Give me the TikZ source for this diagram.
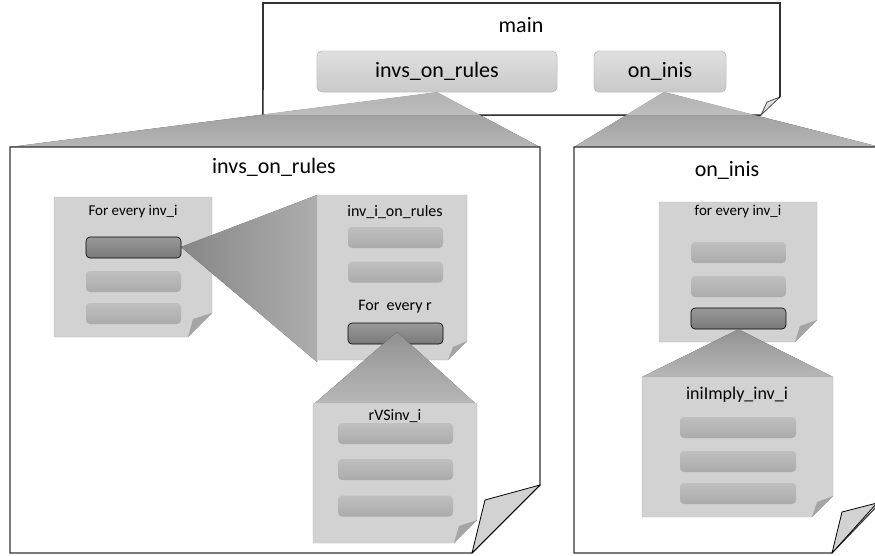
\documentclass[tikz,border=0pt]{standalone}
\usepackage{fontspec}
\setmainfont{Carlito}
\usetikzlibrary{positioning}
\definecolor{pageG}{RGB}{210,210,210}
\definecolor{pageE}{RGB}{180,180,180}
\definecolor{flapG}{RGB}{165,165,165}
\definecolor{edgeK}{RGB}{50,50,50}

% inner sheet: name, x1, y1, x2, y2, fold
\newcommand{\sheet}[6]{%
  \coordinate (#1-nw) at (#2,#3); \coordinate (#1-ne) at (#4,#3);
  \coordinate (#1-sw) at (#2,#5);
  \filldraw[fill=pageG,draw=pageE,thin] (#2,#3)--(#4,#3)--(#4,#5-#6)--(#4-#6,#5)--(#2,#5)--cycle;
  \fill[flapG] (#4,#5-#6)--(#4-#6+5,#5-#6+6)--(#4-#6,#5)--cycle;}

\begin{document}
\begin{tikzpicture}[x=1pt,y=-1pt,
  big/.style={draw=edgeK,line width=1.1pt,line join=miter},
  bigflap/.style={draw=black,fill=pageG,line width=0.8pt,line join=round},
  topbtn/.style={rounded corners=5pt,draw=pageE,top color=gray!25,bottom color=gray!42,
    font=\fontsize{22}{24}\selectfont,inner sep=0pt},
  btn/.style={rounded corners=4pt,top color=gray!50,bottom color=gray!66,
    minimum width=95pt,minimum height=21pt,inner sep=0pt},
  selbtn/.style={btn,draw=black,semithick,top color=gray!80,bottom color=gray!105},
  fanV/.style={top color=gray!72,bottom color=gray!40,opacity=0.88},
  fanH/.style={left color=gray!80,right color=gray!45,opacity=0.85},
  title/.style={font=\fontsize{22}{24}\selectfont,inner sep=0pt},
  small/.style={font=\fontsize{15}{17}\selectfont,inner sep=0pt},
  mid/.style={font=\fontsize{16}{18}\selectfont,inner sep=0pt}]
\useasboundingbox (0,0) rectangle (875,555);

% main sheet
\filldraw[big,fill=white] (761,115)--(263,115)--(263,3)--(780,3)--(780,97);
\draw[bigflap] (780,97)--(767,102)--(761,115)--cycle;
\node[title] (mainT) at (521,25) {main};
\node[topbtn,minimum width=240pt,minimum height=41pt] (invs) at (437,71.5) {invs\_on\_rules};
\node[topbtn,minimum width=132pt,minimum height=41pt] (inis) at (660,71.5) {on\_inis};
\coordinate (inisTip) at (664,92);

% panel corners
\coordinate (L-nw) at (10,147); \coordinate (L-ne) at (540,147);
\coordinate (R-nw) at (574,147); \coordinate (R-ne) at (880,147);
\fill[fanV] (invs.south) -- (L-ne) -- (L-nw) -- cycle;
\fill[fanV] (inisTip) -- (R-ne) -- (R-nw) -- cycle;
\fill[white,opacity=0.3] (263,90) rectangle (779,114.5);
\node[topbtn,minimum width=240pt,minimum height=41pt] at (invs) {invs\_on\_rules};
\node[topbtn,minimum width=132pt,minimum height=41pt] at (inis) {on\_inis};

% left panel
\filldraw[big,fill=white] (L-nw)--(L-ne)--(540,485)--(472,553)--(10,553)--cycle;
\draw[bigflap] (540,485)--(485,500)--(472,553)--cycle;
\node[title] (invsT) at (274,167) {invs\_on\_rules};

\sheet{pA}{54}{197}{212}{337}{24}
\node[small] (pAT) at (133,212) {For every inv\_i};
\node[btn] (a2) at (133.5,281.5) {};
\node[btn] (a3) at (133.5,313.5) {};
\fill[fanH] (181,247) -- (317,195) -- (317,362) -- cycle;
\node[selbtn] (a1) at (133.5,247.5) {};

\sheet{pB}{317}{195}{467}{360}{19}
\node[mid] (pBT) at (395,212) {inv\_i\_on\_rules};
\node[btn] (b1) at (395.5,237.5) {};
\node[btn] (b2) at (395.5,272) {};
\node[mid] (pBr) at (395,307) {For\ \ every r};
\node[selbtn] (b3) at (395.5,333.5) {};

\fill[fanV] (397,332) -- (475,403) -- (315,403) -- cycle;
\sheet{pC}{313}{403}{477}{543}{23}
\node[mid,anchor=base] (pCT) at (395,420) {rVSinv\_i};
\node[btn,minimum width=115pt] (c1) at (395.5,433.5) {};
\node[btn,minimum width=115pt] (c2) at (395.5,469.5) {};
\node[btn,minimum width=115pt] (c3) at (395.5,506) {};

% right panel
\filldraw[big,fill=white] (R-nw)--(R-ne)--(880,503)--(832,553)--(574,553)--cycle;
\draw[bigflap] (877,503)--(842,512)--(832,553)--cycle;
\node[title] (inisT) at (727,170) {on\_inis};

\sheet{pD}{659}{202}{817}{342}{22}
\node[small] (pDT) at (738,212) {for every inv\_i};
\node[btn] (d1) at (738.5,252.5) {};
\node[btn] (d2) at (738.5,286.5) {};
\node[selbtn] (d3) at (738.5,318.5) {};
\fill[fanV] (d3.south) -- (833,377) -- (642,377) -- cycle;

\sheet{pE}{642}{377}{833}{517}{21}
\node[font=\fontsize{18}{20}\selectfont,inner sep=0pt] (pET) at (737,395) {iniImply\_inv\_i};
\node[btn,minimum width=116pt] (e1) at (738,427.5) {};
\node[btn,minimum width=116pt] (e2) at (738,461.5) {};
\node[btn,minimum width=116pt] (e3) at (738,493.5) {};
\end{tikzpicture}
\end{document}
